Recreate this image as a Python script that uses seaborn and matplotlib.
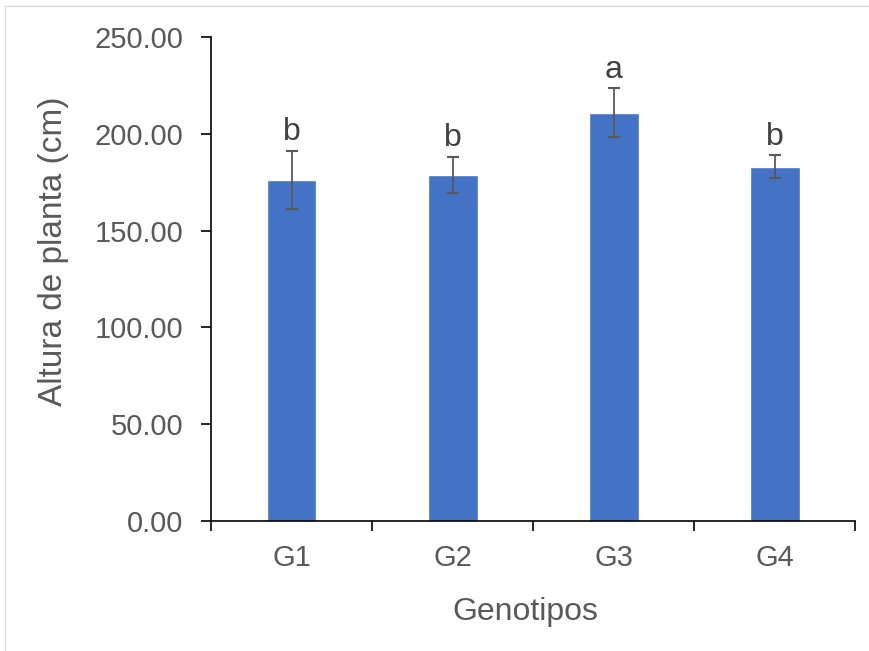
import matplotlib
matplotlib.use("Agg")
import matplotlib.pyplot as plt
from matplotlib.patches import Rectangle
from matplotlib.ticker import FixedLocator, FormatStrFormatter
import seaborn as sns
import pandas as pd

genotipos = ["G1", "G2", "G3", "G4"]
altura = [176.2, 178.8, 211.1, 183.1]
error = [15.1, 9.5, 12.5, 6.0]
letras = ["b", "b", "a", "b"]

sns.set_theme(style="white")
plt.rcParams["font.family"] = ["Liberation Sans", "DejaVu Sans"]

TEXT = "#595959"
BAR = "#4472C4"

df = pd.DataFrame({"Genotipos": genotipos, "Altura": altura})

fig = plt.figure(figsize=(8.7, 6.51), dpi=100)
fig.patch.set_facecolor("white")
# light chart-area frame
fig.patches.append(Rectangle((5 / 870, -0.01), 1.0, 1 - 6 / 651 + 0.01,
                             transform=fig.transFigure, fill=False,
                             edgecolor="#D9D9D9", linewidth=1.0))

ax = fig.add_axes([0.2425, 0.2002, 0.7405, 0.7425])
sns.barplot(data=df, x="Genotipos", y="Altura", color=BAR, width=0.31,
            saturation=1, errorbar=None, ax=ax)
ax.errorbar(range(len(genotipos)), altura, yerr=error, fmt="none",
            ecolor="#595959", elinewidth=1.3, capsize=4.5, capthick=1.5)

# significance letters above each error bar
for i, (v, e, t) in enumerate(zip(altura, error, letras)):
    ax.annotate(t, (i, v + e), xytext=(0, 7.5), textcoords="offset points",
                ha="center", va="baseline", fontsize=23, color="#404040")

ax.set_ylim(0, 250)
ax.set_xlim(-0.5, 3.5)
ax.set_yticks([0, 50, 100, 150, 200, 250])
ax.yaxis.set_major_formatter(FormatStrFormatter("%.2f"))
ax.xaxis.set_minor_locator(FixedLocator([-0.5, 0.5, 1.5, 2.5, 3.5]))

for s in ["top", "right"]:
    ax.spines[s].set_visible(False)
for s in ["left", "bottom"]:
    ax.spines[s].set_color("black")
    ax.spines[s].set_linewidth(1.2)

ax.tick_params(axis="y", which="major", direction="out", length=7, width=1.2,
               color="black", labelsize=21, labelcolor=TEXT, pad=13, left=True)
ax.tick_params(axis="x", which="major", length=0, labelsize=21,
               labelcolor=TEXT, pad=16.5)
ax.tick_params(axis="x", which="minor", direction="out", length=7, width=1.2,
               color="black", bottom=True)

ax.set_xlabel("Genotipos", fontsize=23, color=TEXT)
ax.xaxis.label.set_va("baseline")
ax.xaxis.set_label_coords(0.4876, -0.2054)

ax.set_ylabel("Altura de planta (cm)", fontsize=24, color=TEXT)
ax.yaxis.label.set_va("center")
ax.yaxis.set_label_coords(-0.2438, 0.558)

fig.savefig("out.png", dpi=100)
